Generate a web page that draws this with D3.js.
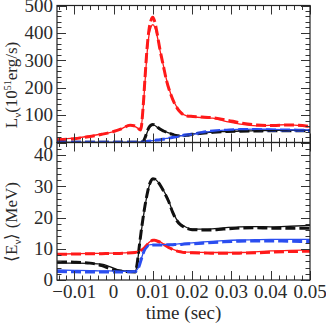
<!DOCTYPE html>
<html>
<head>
<meta charset="utf-8">
<script src="https://cdn.jsdelivr.net/npm/d3@7"></script>
<style>
body { margin: 0; background: #fff; }
svg text { font-family: "Liberation Serif", "Times New Roman", serif; fill: #2a2a2a; }
</style>
</head>
<body>
<svg id="viz"></svg>
<script>
var width = 326;
var height = 327;

// time grid (sec) for the luminosity panel
var tLum = [-0.0144, -0.01, -0.006, -0.003, 0, 0.002, 0.0042, 0.0055, 0.0069, 0.0075, 0.008, 0.0085, 0.009, 0.0095, 0.01, 0.0105, 0.011, 0.0118, 0.0127, 0.0135, 0.0145, 0.0155, 0.0169, 0.0186, 0.0202, 0.0225, 0.0253, 0.0288, 0.0322, 0.0364, 0.0406, 0.0441, 0.047, 0.05];
var redL   = [12, 16, 24, 31, 40, 50, 64, 58, 48, 120, 220, 320, 390, 420, 430, 420, 395, 337, 280, 228, 180, 145, 113, 97, 94, 91, 89, 76, 67, 61, 63, 65, 62, 56];
var redLd  = [10, 14, 22, 30, 40, 50, 63, 60, 46, 125, 235, 340, 410, 445, 457, 440, 405, 340, 278, 225, 178, 143, 112, 97, 95, 93, 90, 82, 72, 64, 62, 64, 63, 58];
var blackL  = [0.5, 0.5, 0.5, 0.5, 0.5, 0.5, 0.5, 0.5, 1, 3, 15, 35, 52, 61, 64, 62, 57, 48, 42, 38, 33, 28, 25, 27, 31, 35, 38, 40, 42, 43, 44, 44, 44, 44];
var blackLd = [0.5, 0.5, 0.5, 0.5, 0.5, 0.5, 0.5, 0.5, 1, 4, 17, 38, 55, 63, 66, 63, 58, 49, 42, 37, 32, 27, 24, 26, 30, 34, 37, 40, 41, 42, 43, 43, 43, 43];
var blueL   = [0.5, 0.5, 0.5, 0.5, 0.5, 0.5, 0.5, 0.5, 1, 2, 3, 4, 5, 6, 7, 8, 9, 10, 13, 15, 17, 20, 24, 27, 30, 36, 41, 46, 48, 49, 48, 47, 46, 46];
var blueLd  = [0.5, 0.5, 0.5, 0.5, 0.5, 0.5, 0.5, 0.5, 1, 2, 3, 4, 5, 6, 7, 8, 9, 10, 12, 14, 17, 20, 24, 28, 31, 37, 42, 45, 47, 47, 46, 46, 45, 44];

// time grid (sec) for the mean energy panel
var tEn = [-0.0144, -0.01, -0.006, -0.003, -0.001, 0.001, 0.003, 0.0055, 0.006, 0.0065, 0.007, 0.0075, 0.008, 0.0085, 0.009, 0.0095, 0.01, 0.0105, 0.011, 0.012, 0.013, 0.014, 0.015, 0.016, 0.017, 0.018, 0.02, 0.024, 0.028, 0.032, 0.036, 0.04, 0.045, 0.05];
var redE   = [8.3, 8.4, 8.5, 8.5, 8.6, 8.6, 8.7, 8.9, 9.1, 9.3, 9.6, 10, 10.6, 11.3, 12, 12.5, 12.8, 12.8, 12.6, 12.1, 11.3, 10.5, 9.9, 9.4, 9.2, 9.0, 8.9, 8.8, 8.8, 8.8, 9.0, 9.3, 9.5, 9.6];
var redEd  = [8.2, 8.3, 8.4, 8.4, 8.5, 8.5, 8.6, 8.8, 9.0, 9.2, 9.5, 9.9, 10.5, 11.2, 11.9, 12.4, 12.7, 12.7, 12.5, 12.0, 11.2, 10.4, 9.8, 9.3, 9.0, 8.8, 8.7, 8.6, 8.6, 8.6, 8.7, 8.9, 9.1, 9.2];
var blackE  = [5.4, 5.4, 5.3, 5.1, 4.3, 3.3, 2.9, 2.7, 5, 10, 15, 19.5, 23.5, 27, 29.8, 31.5, 32.3, 32.3, 31.8, 30.2, 28, 25.5, 22, 19.5, 18, 17.2, 16.3, 16.3, 16.7, 17.0, 17.1, 17.0, 17.2, 17.5];
var blackEd = [5.8, 5.7, 5.4, 4.6, 3.6, 2.9, 2.7, 2.6, 5.2, 10.3, 15.3, 19.8, 23.8, 27.2, 30, 31.7, 32.4, 32.3, 31.8, 30.1, 27.8, 25.2, 21.8, 19.2, 17.7, 16.9, 16.1, 16.0, 16.3, 16.6, 16.7, 16.6, 16.6, 16.6];
var blueE   = [3.2, 3.1, 3.0, 2.9, 2.9, 2.8, 2.8, 2.8, 3.3, 4.5, 6.5, 8.5, 10.0, 10.8, 11.2, 11.3, 11.3, 11.3, 11.3, 11.3, 11.3, 11.4, 11.4, 11.5, 11.6, 11.7, 11.9, 12.3, 12.6, 12.8, 12.9, 13.0, 13.0, 13.0];
var blueEd  = [2.7, 2.6, 2.6, 2.6, 2.6, 2.6, 2.6, 2.7, 3.2, 4.4, 6.4, 8.4, 9.9, 10.7, 11.1, 11.2, 11.2, 11.2, 11.2, 11.2, 11.2, 11.3, 11.3, 11.4, 11.4, 11.5, 11.6, 11.9, 12.2, 12.4, 12.5, 12.5, 12.4, 12.3];

var xTicks = [-0.01, 0, 0.01, 0.02, 0.03, 0.04, 0.05];
var xTickLabels = ["\u22120.01", "0", "0.01", "0.02", "0.03", "0.04", "0.05"];
var lumTicks = [0, 100, 200, 300, 400, 500];
var enTicks = [0, 10, 20, 30, 40];

var red = "#ff1a1a", black = "#111111", blue = "#2b4ef0";

var svg = d3.select("#viz").attr("width", width).attr("height", height);

var x = d3.scaleLinear().domain([-0.0144, 0.05]).range([57, 310]);
var yL = d3.scaleLinear().domain([0, 500]).range([142.5, 5.5]);
var yE = d3.scaleLinear().domain([0, 44]).range([280, 142.5]);

var panels = [
    {y: yL, t: tLum, minorY: 20, ticks: lumTicks, id: "clipL",
     series: [[redLd, red, true], [blackLd, black, true], [blueLd, blue, true],
              [redL, red, false], [blackL, black, false], [blueL, blue, false]]},
    {y: yE, t: tEn, minorY: 2, ticks: enTicks, id: "clipE",
     series: [[redEd, red, true], [blackEd, black, true], [blueEd, blue, true],
              [redE, red, false], [blackE, black, false], [blueE, blue, false]]}
];

var defs = svg.append("defs");

panels.forEach(function(p) {
    var x0 = x.range()[0], x1 = x.range()[1];
    var yb = p.y.range()[0], yt = p.y.range()[1];

    defs.append("clipPath").attr("id", p.id)
        .append("rect").attr("x", x0).attr("y", yt).attr("width", x1 - x0).attr("height", yb - yt);

    var g = svg.append("g");
    var plot = g.append("g").attr("clip-path", "url(#" + p.id + ")");

    p.series.forEach(function(s) {
        var pts = p.t.map(function(t, i) { return [t, s[0][i]]; });
        var line = d3.line()
            .x(function(d) { return x(d[0]); })
            .y(function(d) { return p.y(d[1]); })
            .curve(d3.curveMonotoneX);
        plot.append("path")
            .attr("d", line(pts))
            .attr("fill", "none")
            .attr("stroke", s[1])
            .attr("stroke-width", s[2] ? 3 : 1.3)
            .attr("stroke-dasharray", s[2] ? "10,4" : null);
    });

    // ticks on all four sides, pointing inward
    var tk = g.append("g").attr("stroke", "#333").attr("stroke-width", 1);
    var xMinor = d3.range(-0.014, 0.0501, 0.002);
    xMinor.forEach(function(v) {
        var major = Math.abs(Math.round(v * 100) - v * 100) < 1e-6;
        var len = major ? 9 : 4.5;
        var px = Math.round(x(v)) + 0.5;
        tk.append("line").attr("x1", px).attr("x2", px).attr("y1", yb).attr("y2", yb - len);
        tk.append("line").attr("x1", px).attr("x2", px).attr("y1", yt).attr("y2", yt + len);
    });
    var yMax = p.y.domain()[1];
    d3.range(0, yMax + 0.001, p.minorY).forEach(function(v) {
        var major = p.ticks.indexOf(v) >= 0;
        var len = major ? 9 : 4.5;
        var py = Math.round(p.y(v)) + 0.5;
        tk.append("line").attr("x1", x0).attr("x2", x0 + len).attr("y1", py).attr("y2", py);
        tk.append("line").attr("x1", x1).attr("x2", x1 - len).attr("y1", py).attr("y2", py);
    });

    g.append("rect")
        .attr("x", x0).attr("y", yt).attr("width", x1 - x0).attr("height", yb - yt)
        .attr("fill", "none").attr("stroke", "#222").attr("stroke-width", 1.2);

    g.selectAll("text.ylab").data(p.ticks).enter().append("text")
        .attr("class", "ylab")
        .attr("x", 53)
        .attr("y", function(d) { return p.y(d); })
        .attr("dy", "0.33em")
        .attr("text-anchor", "end")
        .style("font-size", "19px")
        .text(function(d) { return d; });
});

svg.selectAll("text.xlab").data(xTicks).enter().append("text")
    .attr("class", "xlab")
    .attr("x", function(d) { return x(d); })
    .attr("y", 298)
    .attr("text-anchor", "middle")
    .style("font-size", "19px")
    .text(function(d, i) { return xTickLabels[i]; });

svg.append("text")
    .attr("x", (x.range()[0] + x.range()[1]) / 2)
    .attr("y", 319)
    .attr("text-anchor", "middle")
    .style("font-size", "19px")
    .text("time (sec)");

var lt = svg.append("text")
    .attr("transform", "translate(17,85) rotate(-90)")
    .attr("text-anchor", "middle")
    .style("font-size", "17px");
lt.append("tspan").text("L");
lt.append("tspan").attr("dy", 4).style("font-size", "11px").text("\u03bd");
lt.append("tspan").attr("dy", -4).text("(10");
lt.append("tspan").attr("dy", -6).style("font-size", "10px").text("51");
lt.append("tspan").attr("dy", 6).text("erg/s)");

var et = svg.append("text")
    .attr("transform", "translate(17,222) rotate(-90)")
    .attr("text-anchor", "middle")
    .style("font-size", "17px");
et.append("tspan").text("\u27e8E");
et.append("tspan").attr("dy", 4).style("font-size", "11px").text("\u03bd");
et.append("tspan").attr("dy", -4).text("\u27e9 (MeV)");
</script>
</body>
</html>
